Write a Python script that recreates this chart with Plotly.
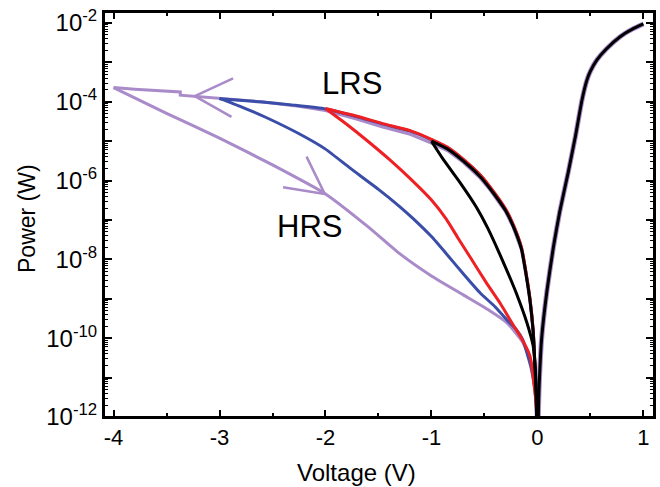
import plotly.graph_objects as go

# ---------------- data ----------------
# Upper (LRS) branches, swept from 0 V to the negative limit
env_v = [-0.003, -0.01, -0.02, -0.04, -0.07, -0.10, -0.15, -0.23, -0.30, -0.45, -0.54,
         -0.70, -0.85, -1.0, -1.2, -1.46, -1.7, -2.0, -2.3, -2.6, -3.0]
env_p = [1e-13, 2.5e-12, 1.3e-11, 1.6e-10, 1.0e-9, 3.5e-9, 2.0e-8, 7.9e-8, 1.9e-7, 7.1e-7, 1.4e-6,
         3.5e-6, 7.1e-6, 1.12e-5, 1.86e-5, 2.8e-5, 4.3e-5, 6.8e-5, 8.5e-5, 1.02e-4, 1.23e-4]

purple_lrs_v = [-0.003, -0.01, -0.02, -0.04, -0.07, -0.10, -0.15, -0.23, -0.30, -0.45, -0.54,
                -0.70, -0.85, -1.0, -1.2, -1.46, -1.7, -2.0, -2.3, -2.6, -3.0, -3.22, -3.37,
                -3.37, -3.6, -3.8, -4.0]
purple_lrs_p = [1e-13, 2.3e-12, 1.2e-11, 1.4e-10, 8.5e-10, 3.0e-9, 1.7e-8, 6.6e-8, 1.6e-7, 5.9e-7, 1.15e-6,
                2.9e-6, 5.8e-6, 9.0e-6, 1.5e-5, 2.3e-5, 3.6e-5, 6.0e-5, 8.0e-5, 1.0e-4, 1.23e-4, 1.38e-4, 1.48e-4,
                1.78e-4, 1.9e-4, 2.1e-4, 2.3e-4]

# Lower (HRS) return branches
purple_hrs_v = [-4.0, -3.5, -3.0, -2.5, -2.0, -1.6, -1.3, -1.0, -0.7, -0.45, -0.29, -0.14,
                -0.06, -0.03, -0.01, -0.003]
purple_hrs_p = [2.3e-4, 5.1e-5, 1.2e-5, 2.5e-6, 4.6e-7, 6.8e-8, 1.4e-8, 3.8e-9, 1.26e-9, 5.0e-10,
                2.5e-10, 8e-11, 2.5e-11, 1e-11, 2.5e-12, 1e-13]

blue_hrs_v = [-3.0, -2.8, -2.56, -2.24, -2.0, -1.77, -1.5, -1.3, -1.17, -1.0, -0.86, -0.69, -0.54,
              -0.40, -0.29, -0.2, -0.14, -0.06, -0.03, -0.01, -0.003]
blue_hrs_p = [1.23e-4, 7.6e-5, 4.0e-5, 1.5e-5, 6.3e-6, 2.1e-6, 6.0e-7, 2.2e-7, 1.07e-7, 3.8e-8, 1.4e-8,
              4.0e-9, 1.4e-9, 6.3e-10, 2.95e-10, 1.66e-10, 9.3e-11, 1.8e-11, 6.3e-12, 2e-12, 1e-13]

red_hrs_v = [-2.0, -1.8, -1.6, -1.4, -1.2, -1.0, -0.86, -0.75, -0.64, -0.48, -0.35, -0.23,
             -0.15, -0.07, -0.035, -0.01, -0.003]
red_hrs_p = [6.8e-5, 2.7e-5, 1.0e-5, 3.5e-6, 1.12e-6, 3.2e-7, 1.05e-7, 3.5e-8, 1.2e-8, 2.5e-9,
             7.6e-10, 2.2e-10, 1.0e-10, 3.5e-11, 8e-12, 1.6e-12, 1e-13]

black_hrs_v = [-1.0, -0.89, -0.73, -0.58, -0.47, -0.36, -0.25, -0.20, -0.10, -0.04, -0.02,
               -0.008, -0.003]
black_hrs_p = [1.0e-5, 3.5e-6, 8.9e-7, 2.2e-7, 6.3e-8, 1.45e-8, 3.0e-9, 1.4e-9, 2.5e-10, 6.3e-11,
               1.6e-11, 2.5e-12, 1e-13]

# Positive-voltage branch (shared by all sweeps)
pos_v = [0.003, 0.01, 0.015, 0.04, 0.09, 0.15, 0.21, 0.29, 0.36, 0.42, 0.466, 0.50, 0.56, 0.65,
         0.78, 0.9, 1.0]
pos_p = [1e-13, 1.6e-12, 5e-12, 1e-10, 1.6e-9, 2e-8, 1.6e-7, 1.6e-6, 1.4e-5, 1.1e-4, 3.5e-4,
         6.0e-4, 1.15e-3, 2.2e-3, 4.5e-3, 7.1e-3, 9.5e-3]

# Sweep-direction arrows (open heads)
arrow1_v = [-2.872, -3.233, -2.887]
arrow1_p = [3.91e-4, 1.393e-4, 4.17e-5]
arrow2_v = [-2.179, -2.007, -2.400]
arrow2_p = [4.06e-6, 4.60e-7, 6.81e-7]

labels = ["LRS", "HRS"]
label_v = [-1.75, -2.15]
label_logp = [-3.53, -7.17]

y_major_exp = list(range(-12, -1))
x_major = [-4, -3, -2, -1, 0, 1]

PURPLE = "#A98BC9"
BLUE = "#3A4DA8"
RED = "#EE2024"
BLACK = "#000000"
FONT = "Arial, Liberation Sans, sans-serif"

# ---------------- figure ----------------
fig = go.Figure()


def line(x, y, color, width=3, smooth=True):
    ln = dict(color=color, width=width)
    if smooth:
        ln.update(shape="spline", smoothing=0.5)
    fig.add_trace(go.Scatter(x=x, y=y, mode="lines", line=ln,
                             hoverinfo="skip", showlegend=False))


# purple sweep
line(pos_v, pos_p, PURPLE, 5)
line(purple_lrs_v, purple_lrs_p, PURPLE, smooth=False)
line(purple_hrs_v, purple_hrs_p, PURPLE)
# blue sweep
line(env_v, [p * 0.97 for p in env_p], BLUE)
line(blue_hrs_v, blue_hrs_p, BLUE)
# red sweep
line([v for v in env_v if v >= -2.0], [p for v, p in zip(env_v, env_p) if v >= -2.0], RED)
line(red_hrs_v, red_hrs_p, RED)
# black sweep
line([v for v in env_v if v >= -1.0], [p * 0.9 for v, p in zip(env_v, env_p) if v >= -1.0], BLACK)
line(black_hrs_v, black_hrs_p, BLACK)
line(pos_v, pos_p, BLACK, 3)
# arrows
line(arrow1_v, arrow1_p, PURPLE, 2.5, smooth=False)
line(arrow2_v, arrow2_p, PURPLE, 2.5, smooth=False)

for t, xv, yv in zip(labels, label_v, label_logp):
    fig.add_annotation(x=xv, y=yv, xref="x", yref="y", text=t, showarrow=False,
                       xanchor="center", yanchor="middle",
                       font=dict(family=FONT, size=31, color="black"))

fig.add_annotation(x=0.4595, y=-0.136, xref="paper", yref="paper", text="Voltage (V)",
                   xanchor="center", yanchor="middle",
                   showarrow=False, font=dict(family=FONT, size=24, color="black"))
fig.add_annotation(x=-0.141, y=0.49, xref="paper", yref="paper", text="Power (W)",
                   xanchor="center", yanchor="middle",
                   textangle=-90, showarrow=False, font=dict(family=FONT, size=23, color="black"))

# plot frame
fig.add_shape(type="rect", xref="paper", yref="paper", x0=0, x1=1, y0=0, y1=1,
              line=dict(color="black", width=2), layer="above")

y_ticktext = [("10<sup>%d</sup>" % e) if e % 2 == 0 else "" for e in y_major_exp]
y_major_vals = [10.0 ** e for e in y_major_exp]
y_minor = [m * 10.0 ** e for e in range(-12, -1) for m in range(2, 10)]
x_minor = [v + 0.5 for v in x_major[:-1]]

X_RANGE = [-4.09, 1.10]
Y_RANGE = [-12, -1.72]

base = dict(showgrid=False, zeroline=False, showline=True, linecolor="black",
            linewidth=2, tickcolor="black", ticks="inside")

fig.update_layout(
    width=660, height=487,
    margin=dict(l=104, r=6, t=12, b=70),
    paper_bgcolor="white", plot_bgcolor="white",
    showlegend=False,
    xaxis=dict(
        range=X_RANGE, ticklen=7, tickwidth=2, side="bottom",
        tickmode="array", tickvals=x_major, ticktext=[str(v) for v in x_major],
        tickfont=dict(family=FONT, size=22, color="black"),
        ticklabelstandoff=0, ticklabeloverflow="allow",
        minor=dict(ticks="inside", ticklen=4, tickwidth=2, tickcolor="black",
                   tickmode="array", tickvals=x_minor),
        **base,
    ),
    xaxis2=dict(
        range=X_RANGE, overlaying="x", side="top", anchor="y", ticklen=7, tickwidth=2,
        tickmode="array", tickvals=x_major, showticklabels=False,
        minor=dict(ticks="inside", ticklen=4, tickwidth=2, tickcolor="black",
                   tickmode="array", tickvals=x_minor),
        **base,
    ),
    yaxis=dict(
        type="log", range=Y_RANGE, ticklen=8, tickwidth=2, side="left",
        tickmode="array", tickvals=y_major_vals, ticktext=y_ticktext,
        tickfont=dict(family=FONT, size=24, color="black"),
        ticklabelstandoff=0, ticklabeloverflow="allow",
        **base,
    ),
    yaxis2=dict(
        type="log", range=Y_RANGE, overlaying="y", anchor="x", side="left",
        ticklen=4, tickwidth=1, tickmode="array", tickvals=y_minor, showticklabels=False,
        **base,
    ),
    yaxis3=dict(
        type="log", range=Y_RANGE, overlaying="y", anchor="x", side="right",
        ticklen=8, tickwidth=2, tickmode="array", tickvals=y_major_vals, showticklabels=False,
        **base,
    ),
    yaxis4=dict(
        type="log", range=Y_RANGE, overlaying="y", anchor="x", side="right",
        ticklen=4, tickwidth=1, tickmode="array", tickvals=y_minor, showticklabels=False,
        **base,
    ),
)
# empty traces that activate the tick-only axes
for xa, ya in [("x", "y2"), ("x", "y3"), ("x", "y4"), ("x2", "y")]:
    fig.add_trace(go.Scatter(x=[None], y=[None], xaxis=xa, yaxis=ya,
                             showlegend=False, hoverinfo="skip"))

# remove the browser's default page margin so the figure starts at the window corner
fig.write_html("out.html", config={"displayModeBar": False},
               post_script="document.body.style.margin='0';document.body.style.overflow='hidden';")
